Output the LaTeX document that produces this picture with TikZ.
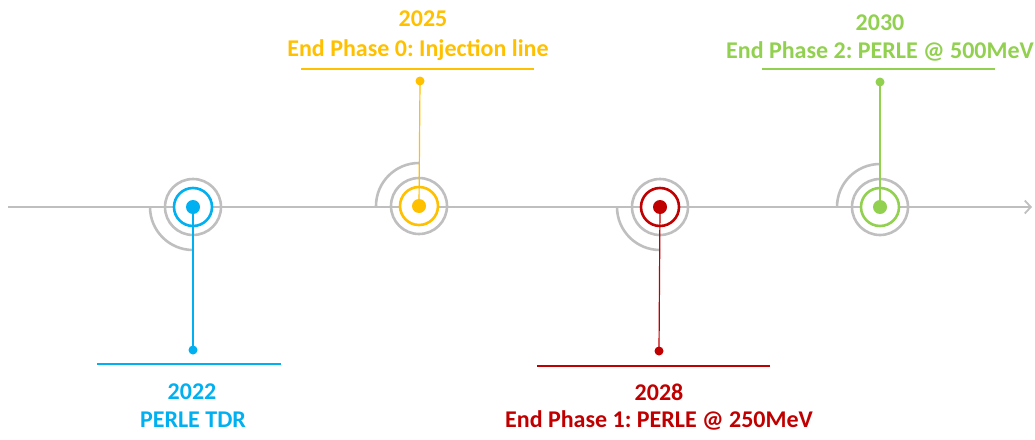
\documentclass[tikz,border=0pt]{standalone}
\usepackage{fontspec}
\setmainfont{Carlito}
\usetikzlibrary{arrows.meta,calc}
\definecolor{cblue}{HTML}{00B0F0}
\definecolor{cyellow}{HTML}{FFC000}
\definecolor{cred}{HTML}{C00000}
\definecolor{cgreen}{HTML}{92D050}
\definecolor{cgray}{HTML}{BFBFBF}
\tikzset{
  ringg/.style={draw=cgray,line width=2.6pt},
  ringc/.style={circle,line width=2.6pt,minimum size=38pt,inner sep=0pt},
  ringo/.style={circle,draw=cgray,line width=2.6pt,minimum size=56pt,inner sep=0pt},
  cdot/.style={circle,minimum size=14pt,inner sep=0pt},
  edot/.style={circle,minimum size=9pt,inner sep=0pt},
  stem/.style={line width=1.2pt},
  uline/.style={line width=2pt},
  lbl/.style={font=\fontsize{24}{28}\selectfont\bfseries,inner sep=0pt,anchor=center}
}
\frenchspacing
\begin{document}
\begin{tikzpicture}[x=1pt,y=-1pt]
\useasboundingbox (0,0) rectangle (1035,439);
% axis
\coordinate (a0) at (8,207);
\coordinate (a1) at (1032,207);
\draw[cgray,line width=2.6pt,-{Straight Barb[length=6pt,width=13pt,line width=1.8pt]}] (a0) -- (a1);
% centres
\coordinate (c1) at (193,207);
\coordinate (c2) at (419,206);
\coordinate (c3) at (660,207);
\coordinate (c4) at (880,207);
% outer arcs (y axis is flipped: angle 90 points down)
\draw[ringg] ($(c1)+(-43,0)$) arc[start angle=180,end angle=90,radius=43];
\draw[ringg] ($(c2)+(-43,0)$) arc[start angle=180,end angle=270,radius=43];
\draw[ringg] ($(c3)+(-43,0)$) arc[start angle=180,end angle=90,radius=43];
\draw[ringg] ($(c4)+(-43,0)$) arc[start angle=180,end angle=270,radius=43];
% gray rings
\node[ringo] (g1) at (c1) {};
\node[ringo] (g2) at (c2) {};
\node[ringo] (g3) at (c3) {};
\node[ringo] (g4) at (c4) {};
% coloured rings
\node[ringc,draw=cblue,fill=white] (r1) at (c1) {};
\node[ringc,draw=cyellow,fill=white] (r2) at (c2) {};
\node[ringc,draw=cred,fill=white] (r3) at (c3) {};
\node[ringc,draw=cgreen,fill=white] (r4) at (c4) {};
% end dots
\node[edot,fill=cblue] (e1) at (193,350) {};
\node[edot,fill=cyellow] (e2) at (420,81) {};
\node[edot,fill=cred] (e3) at (659,351) {};
\node[edot,fill=cgreen] (e4) at (880,82) {};
% stems
\draw[stem,cblue] (c1) -- (e1.center);
\draw[stem,cyellow] (c2) -- (e2.center);
\draw[stem,cred] (c3) -- (e3.center);
\draw[stem,cgreen] (c4) -- (e4.center);
% centre dots
\node[cdot,fill=cblue] (d1) at (c1) {};
\node[cdot,fill=cyellow] (d2) at (c2) {};
\node[cdot,fill=cred] (d3) at (c3) {};
\node[cdot,fill=cgreen] (d4) at (c4) {};
% underlines
\coordinate (u1a) at (97,364);  \coordinate (u1b) at (281,364);
\coordinate (u2a) at (301,69);  \coordinate (u2b) at (534,69);
\coordinate (u3a) at (537,366); \coordinate (u3b) at (770,366);
\coordinate (u4a) at (762,69);  \coordinate (u4b) at (995,69);
\draw[uline,cblue] (u1a) -- (u1b);
\draw[uline,cyellow] (u2a) -- (u2b);
\draw[uline,cred] (u3a) -- (u3b);
\draw[uline,cgreen] (u4a) -- (u4b);
% labels
\node[lbl,text=cblue] (y1) at (192,392) {2022};
\node[lbl,text=cblue] (t1) at (193,420) {PERLE TDR};
\node[lbl,text=cyellow] (y2) at (423,19) {2025};
\node[lbl,text=cyellow] (t2) at (418,50) {End Phase 0: Injection line};
\node[lbl,text=cred] (y3) at (659,392) {2028};
\node[lbl,text=cred] (t3) at (659,420) {End Phase 1: PERLE @ 250MeV};
\node[lbl,text=cgreen] (y4) at (880,23) {2030};
\node[lbl,text=cgreen] (t4) at (880,51) {End Phase 2: PERLE @ 500MeV};
\end{tikzpicture}
\end{document}
